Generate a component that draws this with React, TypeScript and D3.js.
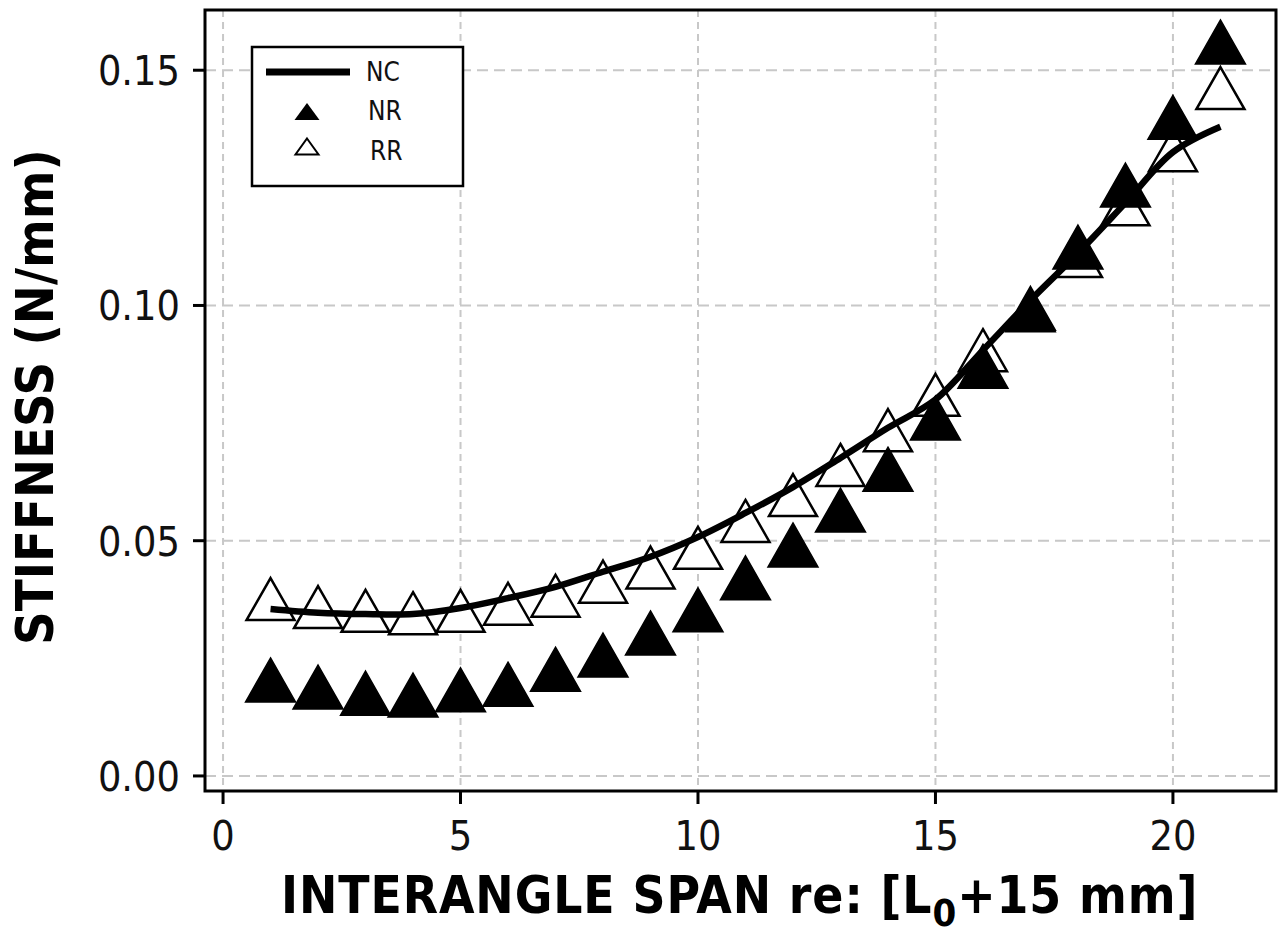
import { useEffect, useRef } from "react";
import * as d3 from "d3";

// interangle span (x) and stiffness values (N/mm)
const span = [1, 2, 3, 4, 5, 6, 7, 8, 9, 10, 11, 12, 13, 14, 15, 16, 17, 18, 19, 20, 21];
const ncValues = [
  0.0355, 0.0347, 0.0344, 0.0344, 0.0357, 0.0378, 0.0402, 0.0434, 0.0466, 0.0508, 0.0559,
  0.0614, 0.0676, 0.074, 0.08, 0.0905, 0.1011, 0.1111, 0.1218, 0.1326, 0.138,
];
const nrValues = [
  0.0204, 0.0189, 0.0176, 0.0172, 0.0183, 0.0195, 0.0227, 0.0257, 0.0304, 0.0353, 0.0421,
  0.0491, 0.0565, 0.0652, 0.0761, 0.0871, 0.0994, 0.1124, 0.1256, 0.14, 0.156,
];
const rrValues = [
  0.0376, 0.0359, 0.0351, 0.0346, 0.0351, 0.0366, 0.0383, 0.0413, 0.0443, 0.0485, 0.0542,
  0.0597, 0.0661, 0.0735, 0.081, 0.0905, 0.099, 0.1105, 0.1215, 0.133, 0.1462,
];
const xTicks = [0, 5, 10, 15, 20];
const yTicks = [0, 0.05, 0.1, 0.15];
const legendLabels = ["NC", "NR", "RR"];

const W = 1283;
const H = 935;
const FONT = "'DejaVu Sans Condensed', 'DejaVu Sans', sans-serif";

function tri(cx: number, cy: number, w: number, h: number) {
  return `M${cx},${cy - h / 2}L${cx + w / 2},${cy + h / 2}L${cx - w / 2},${cy + h / 2}Z`;
}

export default function App() {
  const ref = useRef<SVGSVGElement>(null);

  useEffect(() => {
    const svg = d3.select(ref.current);
    svg.selectAll("*").remove();

    const left = 205, right = 1276, top = 10, bottom = 791;
    const x = d3.scaleLinear().domain([-0.38, 22.17]).range([left, right]);
    const y = d3.scaleLinear().domain([-0.0032, 0.1628]).range([bottom, top]);

    svg.append("rect").attr("width", W).attr("height", H).attr("fill", "#fff");

    // grid
    const grid = svg.append("g").attr("stroke", "#c8c8c8").attr("stroke-width", 2).attr("fill", "none");
    grid
      .selectAll("line.h")
      .data(yTicks)
      .join("line")
      .attr("x1", left)
      .attr("x2", right)
      .attr("y1", (d) => y(d))
      .attr("y2", (d) => y(d))
      .attr("stroke-dasharray", "11,6");
    grid
      .selectAll("line.v")
      .data(xTicks)
      .join("line")
      .attr("class", "v")
      .attr("y1", top)
      .attr("y2", bottom)
      .attr("x1", (d) => x(d))
      .attr("x2", (d) => x(d))
      .attr("stroke-dasharray", "7,5");

    // frame
    svg
      .append("rect")
      .attr("x", left)
      .attr("y", top)
      .attr("width", right - left)
      .attr("height", bottom - top)
      .attr("fill", "none")
      .attr("stroke", "#000")
      .attr("stroke-width", 3);

    // ticks + labels
    svg
      .append("g")
      .selectAll("line")
      .data(yTicks)
      .join("line")
      .attr("x1", left - 12)
      .attr("x2", left)
      .attr("y1", (d) => y(d))
      .attr("y2", (d) => y(d))
      .attr("stroke", "#000")
      .attr("stroke-width", 3);
    svg
      .append("g")
      .selectAll("text")
      .data(yTicks)
      .join("text")
      .attr("x", 180)
      .attr("y", (d) => y(d) + 15)
      .attr("text-anchor", "end")
      .attr("font-family", FONT)
      .attr("font-size", 41)
      .attr("fill", "#111")
      .text((d) => d3.format(".2f")(d));

    svg
      .append("g")
      .selectAll("line")
      .data(xTicks)
      .join("line")
      .attr("x1", (d) => x(d))
      .attr("x2", (d) => x(d))
      .attr("y1", bottom)
      .attr("y2", bottom + 13)
      .attr("stroke", "#000")
      .attr("stroke-width", 3);
    svg
      .append("g")
      .selectAll("text")
      .data(xTicks)
      .join("text")
      .attr("x", (d) => x(d))
      .attr("y", 850)
      .attr("text-anchor", "middle")
      .attr("font-family", FONT)
      .attr("font-size", 41)
      .attr("fill", "#111")
      .text((d) => String(d));

    // axis titles
    const xt = svg
      .append("text")
      .attr("x", 281)
      .attr("y", 913)
      .attr("font-family", FONT)
      .attr("font-weight", "bold")
      .attr("font-size", 51)
      .attr("letter-spacing", 0.9)
      .attr("fill", "#000");
    xt.append("tspan").text("INTERANGLE SPAN re: [L");
    xt.append("tspan").attr("font-size", 38).attr("dy", 13).text("0");
    xt.append("tspan").attr("dy", -13).text("+15 mm]");

    svg
      .append("text")
      .attr("transform", "translate(53,397) rotate(-90)")
      .attr("text-anchor", "middle")
      .attr("font-family", FONT)
      .attr("font-weight", "bold")
      .attr("font-size", 52)
      .attr("fill", "#000")
      .text("STIFFNESS (N/mm)");

    // series
    const rrPts = span.map((s, i) => [x(s), y(rrValues[i])] as [number, number]);
    const nrPts = span.map((s, i) => [x(s), y(nrValues[i])] as [number, number]);

    svg
      .append("g")
      .selectAll("path")
      .data(rrPts)
      .join("path")
      .attr("d", (p) => tri(p[0], p[1], 48, 42))
      .attr("fill", "#fff")
      .attr("stroke", "#000")
      .attr("stroke-width", 2.5);

    svg
      .append("g")
      .selectAll("path")
      .data(nrPts)
      .join("path")
      .attr("d", (p) => tri(p[0], p[1], 50, 44))
      .attr("fill", "#000")
      .attr("stroke", "#000")
      .attr("stroke-width", 1.5);

    const line = d3
      .line<number>()
      .x((_, i) => x(span[i]))
      .y((d) => y(d))
      .curve(d3.curveCatmullRom);
    svg
      .append("path")
      .attr("d", line(ncValues) ?? "")
      .attr("fill", "none")
      .attr("stroke", "#000")
      .attr("stroke-width", 6.5);

    // legend
    const lg = svg.append("g");
    lg.append("rect")
      .attr("x", 252)
      .attr("y", 47)
      .attr("width", 211)
      .attr("height", 139)
      .attr("fill", "#fff")
      .attr("stroke", "#000")
      .attr("stroke-width", 2.5);
    lg.append("line")
      .attr("x1", 266)
      .attr("x2", 350)
      .attr("y1", 72)
      .attr("y2", 72)
      .attr("stroke", "#000")
      .attr("stroke-width", 7);
    lg.append("path").attr("d", tri(307, 111.5, 25, 17)).attr("fill", "#000");
    lg.append("path")
      .attr("d", tri(307, 146.5, 23, 16))
      .attr("fill", "#fff")
      .attr("stroke", "#000")
      .attr("stroke-width", 2);
    lg.selectAll("text")
      .data(legendLabels)
      .join("text")
      .attr("x", (_, i) => [366, 368, 370][i])
      .attr("y", (_, i) => [81, 120, 160][i])
      .attr("font-family", FONT)
      .attr("font-size", 26)
      .attr("fill", "#111")
      .text((d) => d);
  }, []);

  return (
    <svg
      ref={ref}
      width={W}
      height={H}
      style={{ position: "absolute", left: 0, top: 0, display: "block" }}
    />
  );
}
